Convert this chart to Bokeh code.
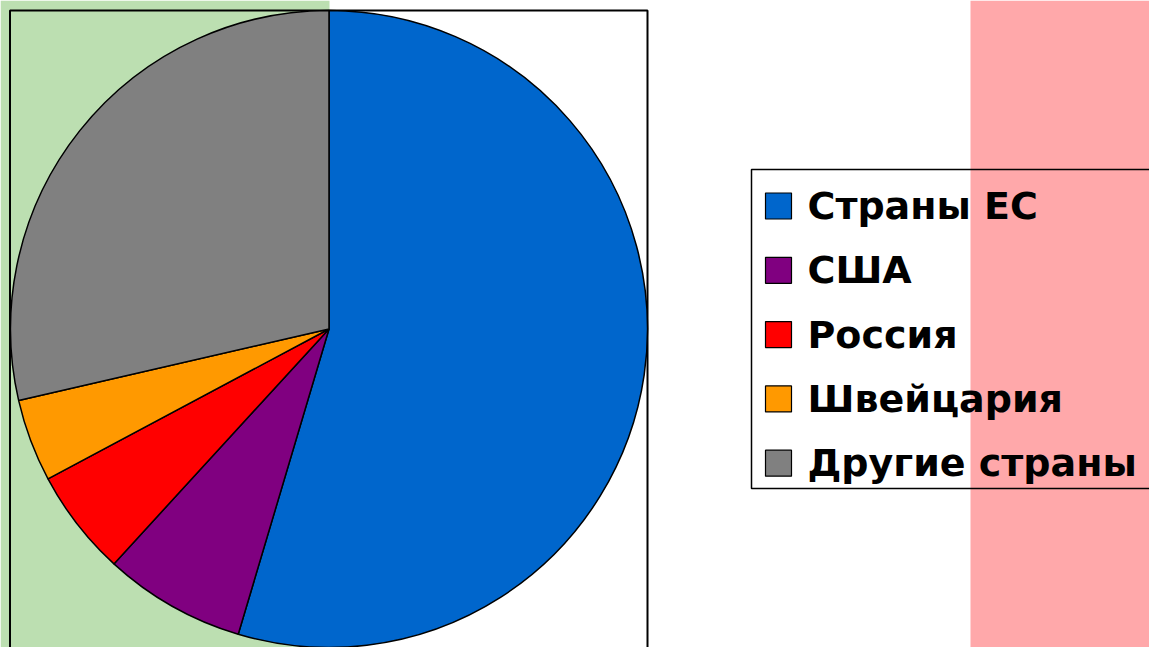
import numpy as np
from bokeh.plotting import figure
from bokeh.models import Range1d, ColumnDataSource
from bokeh.core.properties import value
from bokeh.embed import file_html
from bokeh.resources import INLINE

categories = ["Страны ЕС", "США", "Россия", "Швейцария", "Другие страны"]
shares = [54.6, 7.2, 5.4, 4.2, 28.6]
colors = ["#0066CC", "#800080", "#FF0000", "#FF9900", "#808080"]

W, H = 1149, 647
p = figure(width=W, height=H, output_backend="svg", toolbar_location=None,
           x_range=Range1d(0, W), y_range=Range1d(0, H), min_border=0,
           background_fill_color="white", border_fill_color="white")
p.outline_line_color = None
p.axis.visible = False
p.grid.visible = False

# flag-like background bands
p.quad(left=[0], right=[329], bottom=[0], top=[H], fill_color="#BCDFB1", line_color=None)
p.quad(left=[970], right=[W], bottom=[0], top=[H], fill_color="#FFA8AA", line_color=None)

# plot area box
p.quad(left=[9.5], right=[647], bottom=[-5], top=[637], fill_color=None,
       line_color="black", line_width=2)

# pie
total = float(sum(shares))
frac = np.array(shares) / total
cum = np.concatenate([[0], np.cumsum(frac)])
start = np.pi / 2 - cum[:-1] * 2 * np.pi
end = np.pi / 2 - cum[1:] * 2 * np.pi
src = ColumnDataSource(dict(start=start, end=end, color=colors, cat=categories))
p.wedge(x=328.5, y=318.5, radius=318.5, start_angle="start", end_angle="end",
        direction="clock", fill_color="color", line_color="black", line_width=1.5,
        source=src)

# legend
p.quad(left=[751], right=[1160], bottom=[159], top=[478], fill_color="white",
       fill_alpha=0, line_color="black", line_width=1.5)
n = len(categories)
ys = 441.5 - 64.3 * np.arange(n)
p.rect(x=[778] * n, y=list(ys), width=26, height=26, fill_color=colors,
       line_color="black", line_width=1.2)
p.text(x=[807] * n, y=list(ys), text=categories,
       text_font=value("DejaVu Sans"), text_font_style="bold",
       text_font_size="38px", text_baseline="middle", text_align="left",
       text_color="black")

open("out.html", "w").write(file_html(p, INLINE))
